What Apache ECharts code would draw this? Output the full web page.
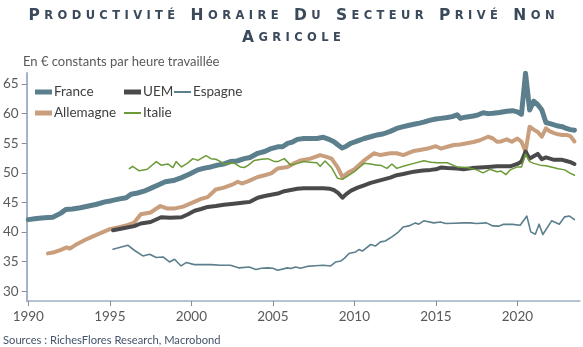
<!DOCTYPE html>
<html>
<head>
<meta charset="utf-8">
<script src="https://cdn.jsdelivr.net/npm/echarts@6/dist/echarts.min.js"></script>
<style>html,body{margin:0;padding:0;background:#fff;}#c{width:583px;height:347px;}</style>
</head>
<body>
<div id="c"></div>
<script>
const titleLine1 = 'PRODUCTIVITÉ HORAIRE DU SECTEUR PRIVÉ NON';
const titleLine2 = 'AGRICOLE';
const subtitle = 'En € constants par heure travaillée';
const sourceText = 'Sources : RichesFlores Research, Macrobond';
const seriesNames = ['France', 'UEM', 'Espagne', 'Allemagne', 'Italie'];
const xTicks = [1990, 1995, 2000, 2005, 2010, 2015, 2020];
const yTicks = [30, 35, 40, 45, 50, 55, 60, 65];

const franceT = [1990.0,1990.5,1991.0,1991.5,1992.0,1992.3,1992.7,1993.2,1993.7,1994.2,1994.7,1995.1,1995.6,1996.0,1996.3,1996.7,1997.1,1997.6,1998.0,1998.4,1998.9,1999.4,1999.9,2000.4,2000.8,2001.2,2001.6,2002.0,2002.4,2002.8,2003.25,2003.6,2004.07,2004.5,2004.9,2005.3,2005.6,2005.9,2006.2,2006.5,2006.9,2007.3,2007.7,2008.1,2008.4,2008.75,2009.0,2009.25,2009.5,2009.8,2010.2,2010.6,2011.0,2011.4,2011.8,2012.2,2012.6,2013.0,2013.3,2013.65,2014.0,2014.3,2014.67,2015.0,2015.3,2015.7,2016.0,2016.3,2016.5,2016.8,2017.3,2017.6,2017.9,2018.2,2018.5,2018.9,2019.35,2019.7,2020.0,2020.25,2020.5,2020.75,2021.0,2021.25,2021.5,2021.75,2022.0,2022.25,2022.5,2022.75,2023.0,2023.25,2023.5];
const franceV = [42.1,42.3,42.4,42.5,43.2,43.8,43.9,44.1,44.4,44.7,45.1,45.3,45.6,45.8,46.4,46.6,46.9,47.5,48.0,48.5,48.7,49.2,49.8,50.5,50.8,51.0,51.3,51.5,51.9,52.0,52.4,52.6,53.3,53.6,54.1,54.4,54.4,54.97,55.2,55.65,55.8,55.8,55.8,56.0,55.7,55.25,54.7,54.2,54.5,55.0,55.4,55.8,56.1,56.4,56.6,57.0,57.5,57.8,58.0,58.2,58.4,58.6,58.9,59.1,59.2,59.35,59.5,59.8,59.2,59.4,59.6,59.8,60.15,60.0,60.05,60.2,60.4,60.5,60.3,59.9,66.8,60.6,62.1,61.5,60.6,58.5,58.3,58.1,57.9,57.8,57.5,57.3,57.2];

const allemagneT = [1991.2,1991.6,1992.0,1992.35,1992.55,1993.0,1993.5,1993.9,1994.5,1995.0,1995.5,1996.0,1996.5,1996.9,1997.5,1998.1,1998.5,1999.0,1999.5,2000.0,2000.6,2001.0,2001.5,2002.0,2002.5,2002.85,2003.1,2003.5,2004.07,2004.5,2004.9,2005.3,2005.9,2006.3,2006.7,2007.3,2007.9,2008.3,2008.6,2008.96,2009.27,2009.6,2010.0,2010.6,2011.2,2011.6,2012.2,2012.6,2013.0,2013.65,2014.1,2014.5,2015.0,2015.3,2015.7,2016.1,2016.5,2016.9,2017.3,2017.7,2018.2,2018.5,2018.75,2019.0,2019.35,2019.66,2020.0,2020.25,2020.5,2020.75,2021.0,2021.25,2021.5,2021.75,2022.0,2022.25,2022.5,2022.75,2023.0,2023.25,2023.5];
const allemagneV = [36.4,36.6,37.0,37.4,37.2,38.0,38.7,39.2,39.9,40.5,40.8,41.1,41.6,43.0,43.3,44.4,44.0,44.0,44.3,44.9,45.6,45.9,47.2,47.5,48.0,48.5,48.2,48.6,49.3,49.6,49.9,50.75,51.0,51.6,52.1,52.4,53.0,52.7,52.4,51.0,49.3,50.0,50.6,52.1,53.3,53.0,53.3,53.3,53.0,53.7,53.9,54.1,54.5,54.1,54.4,54.7,54.8,55.0,55.2,55.5,56.1,55.8,55.25,55.3,55.65,55.25,55.8,55.25,53.6,57.8,57.3,56.9,56.1,57.5,57.0,56.7,56.5,56.4,56.4,56.2,55.3];

const uemT = [1995.2,1995.9,1996.5,1996.9,1997.5,1998.15,1998.7,1999.4,1999.8,2000.2,2000.6,2001.0,2001.5,2002.0,2002.6,2003.25,2003.6,2004.07,2004.5,2004.9,2005.3,2005.7,2006.1,2006.5,2006.9,2007.3,2007.7,2008.1,2008.5,2008.75,2009.0,2009.27,2009.5,2009.8,2010.2,2010.6,2011.0,2011.4,2011.8,2012.2,2012.6,2013.0,2013.65,2014.2,2014.67,2015.0,2015.3,2015.7,2016.3,2016.7,2017.2,2017.7,2018.2,2018.75,2019.2,2019.56,2020.0,2020.25,2020.5,2020.75,2021.0,2021.25,2021.5,2021.75,2022.0,2022.25,2022.5,2022.75,2023.0,2023.25,2023.5];
const uemV = [40.3,40.7,41.0,41.45,41.7,42.5,42.4,42.5,43.0,43.6,43.9,44.25,44.4,44.6,44.8,45.0,45.1,45.8,46.1,46.3,46.5,46.9,47.1,47.3,47.4,47.4,47.4,47.4,47.3,47.1,46.6,45.8,46.4,47.0,47.5,47.9,48.3,48.6,48.9,49.2,49.6,49.8,50.2,50.4,50.5,50.6,50.9,50.8,50.75,50.6,50.8,50.9,51.0,51.1,51.1,51.1,51.5,51.9,53.6,52.4,52.8,53.2,52.3,52.6,52.4,52.2,52.2,52.2,52.0,51.8,51.5];

const italieT = [1996.2,1996.4,1996.8,1997.3,1997.85,1998.15,1998.56,1998.87,1999.07,1999.4,1999.75,2000.1,2000.4,2000.9,2001.2,2001.5,2001.8,2002.0,2002.3,2002.6,2003.0,2003.25,2003.5,2003.86,2004.3,2004.7,2005.1,2005.3,2005.7,2006.1,2006.5,2006.9,2007.3,2007.7,2007.9,2008.2,2008.6,2008.96,2009.27,2009.6,2010.0,2010.3,2010.6,2011.0,2011.4,2011.6,2012.0,2012.3,2012.6,2013.0,2013.65,2014.26,2014.7,2015.1,2015.7,2016.3,2016.9,2017.5,2017.9,2018.3,2018.75,2019.0,2019.3,2019.56,2020.0,2020.25,2020.5,2020.75,2021.0,2021.4,2021.75,2022.2,2022.5,2022.9,2023.2,2023.5];
const italieV = [50.7,51.1,50.35,50.6,51.9,51.3,51.5,50.9,51.9,51.0,51.6,52.4,52.1,52.9,52.4,52.3,51.9,51.5,51.6,51.7,51.0,50.9,51.3,52.1,52.3,52.4,51.9,51.9,52.4,51.3,51.6,51.9,51.8,51.7,51.1,52.0,50.9,49.1,48.9,49.5,50.2,50.9,51.6,51.5,51.3,51.3,50.75,51.5,50.75,51.1,51.6,52.05,51.8,51.7,51.7,51.0,50.9,50.5,50.0,50.6,50.2,50.3,49.7,50.5,51.0,51.0,53.2,51.9,51.6,51.3,51.2,50.9,50.7,50.5,50.0,49.6];

const espagneT = [1995.2,1996.1,1996.5,1997.03,1997.44,1997.85,1998.26,1998.66,1998.97,1999.37,1999.68,2000.19,2000.7,2001.2,2001.8,2002.4,2002.94,2003.55,2003.96,2004.3,2004.68,2005.0,2005.3,2005.9,2006.1,2006.4,2006.7,2007.1,2007.6,2008.1,2008.55,2008.86,2009.16,2009.4,2009.67,2010.08,2010.28,2010.49,2011.0,2011.3,2011.6,2011.9,2012.3,2012.7,2013.0,2013.34,2013.75,2013.95,2014.26,2014.87,2015.28,2015.6,2016.1,2016.7,2017.1,2017.5,2018.1,2018.5,2018.85,2019.15,2019.7,2020.17,2020.58,2020.82,2021.1,2021.33,2021.56,2022.1,2022.57,2022.9,2023.2,2023.5];
const espagneV = [37.1,37.78,36.93,35.97,36.26,35.7,35.8,34.95,35.4,34.28,34.85,34.5,34.5,34.5,34.4,34.4,33.95,34.1,33.67,33.9,33.95,33.9,33.55,33.95,33.84,34.1,33.9,34.2,34.3,34.4,34.28,34.95,35.1,35.6,36.37,36.65,37.05,36.8,37.9,37.66,38.34,38.5,39.2,40.0,40.87,41.04,41.55,41.33,41.9,41.55,41.7,41.45,41.5,41.55,41.55,41.45,41.55,41.04,41.0,41.33,41.3,41.16,42.7,40.03,39.64,41.33,39.58,41.9,41.33,42.57,42.7,42.1];

const zip = (t, v) => t.map((x, i) => [x, v[i]]);
const FONT = 'Lato';
const colors = {France:'#5b7f8c', UEM:'#4a4a4c', Espagne:'#5b7f8c', Allemagne:'#c89e7c', Italie:'#6b9a37'};

function mkSeries(name, t, v, w, z) {
  return {name, type:'line', data: zip(t, v), symbol:'none', showSymbol:false, z,
    color: colors[name], lineStyle:{width:w, color: colors[name], cap:'round', join:'round'},
    emphasis:{disabled:true}, animation:false};
}
function mkLegend(name, left, top, h) {
  return {data:[name], left, top, padding:0, itemWidth:17, itemHeight:h, icon:'rect',
    selectedMode:false, itemGap:0,
    textStyle:{fontFamily:FONT, fontSize:13.5, color:'#404040', padding:[0,0,0,-3]}};
}

const TF = 'DejaVu Sans';
const TC = '#3b4a5b';
// small-caps effect: first letter of each word larger, each letter its own token for letter spacing
const smallCaps = s => s.split(' ').map(w => '{b|' + w[0] + '}' + w.slice(1).split('').map(c => '{s|' + c + '}').join('')).join('{w| }');
const richTitle = {
  b:{fontFamily:TF, fontSize:15.5, fontWeight:'bold', color:TC, padding:[0,2.2,0,2.2], lineHeight:20},
  s:{fontFamily:TF, fontSize:11.5, fontWeight:'bold', color:TC, padding:[0,2.2,0,2.2], lineHeight:20},
  w:{fontFamily:TF, fontSize:11.5, color:TC, padding:[0,3.5,0,3.5], lineHeight:20}
};
function mkTitle(txt, top) {
  return {text: smallCaps(txt), left:'center', top, padding:[0,0,0,6],
    textStyle:{fontFamily:TF, fontSize:15, color:TC, lineHeight:20, rich:richTitle}};
}

const chart = echarts.init(document.getElementById('c'), null, {renderer:'canvas'});
chart.setOption({
  animation:false,
  backgroundColor:'#ffffff',
  title:[mkTitle(titleLine1, 6), mkTitle(titleLine2, 28)],
  grid:{left:25, right:3, top:73, bottom:46, containLabel:false},
  xAxis:{type:'value', min:1989.9, max:2023.84,
    axisLine:{show:true, onZero:false, lineStyle:{color:'#9fb0c6', width:1.5}},
    axisTick:{show:true, customValues:xTicks, length:5, lineStyle:{color:'#8c8c8c'}},
    axisLabel:{customValues:xTicks, formatter: v => String(v), fontFamily:FONT, fontSize:13.5, color:'#595959', margin:9},
    splitLine:{show:false}},
  yAxis:{type:'value', min:28.36, max:66.86,
    axisLine:{show:true, lineStyle:{color:'#a3b3c9', width:2}},
    axisTick:{show:true, customValues:yTicks, length:5, lineStyle:{color:'#8c8c8c'}},
    axisLabel:{customValues:yTicks, fontFamily:FONT, fontSize:13.5, color:'#595959', margin:8},
    splitLine:{show:false}},
  legend:[
    mkLegend('France', 35, 85, 5),
    mkLegend('UEM', 124, 85, 5),
    mkLegend('Espagne', 174, 85, 2),
    mkLegend('Allemagne', 35, 106, 5),
    mkLegend('Italie', 124, 106, 2)
  ],
  series:[
    mkSeries('Allemagne', allemagneT, allemagneV, 4, 2),
    mkSeries('UEM', uemT, uemV, 4, 3),
    mkSeries('France', franceT, franceV, 5, 4),
    mkSeries('Espagne', espagneT, espagneV, 1.6, 5),
    mkSeries('Italie', italieT, italieV, 1.5, 6)
  ],
  graphic:[
    {type:'text', x:23, y:62, style:{text:subtitle, fontFamily:FONT, fontSize:13, fill:'#595959', verticalAlign:'middle'}},
    {type:'text', x:3, y:340, style:{text:sourceText, fontFamily:FONT, fontSize:11.2, fill:'#44546a', verticalAlign:'middle'}}
  ]
});
</script>
</body>
</html>
